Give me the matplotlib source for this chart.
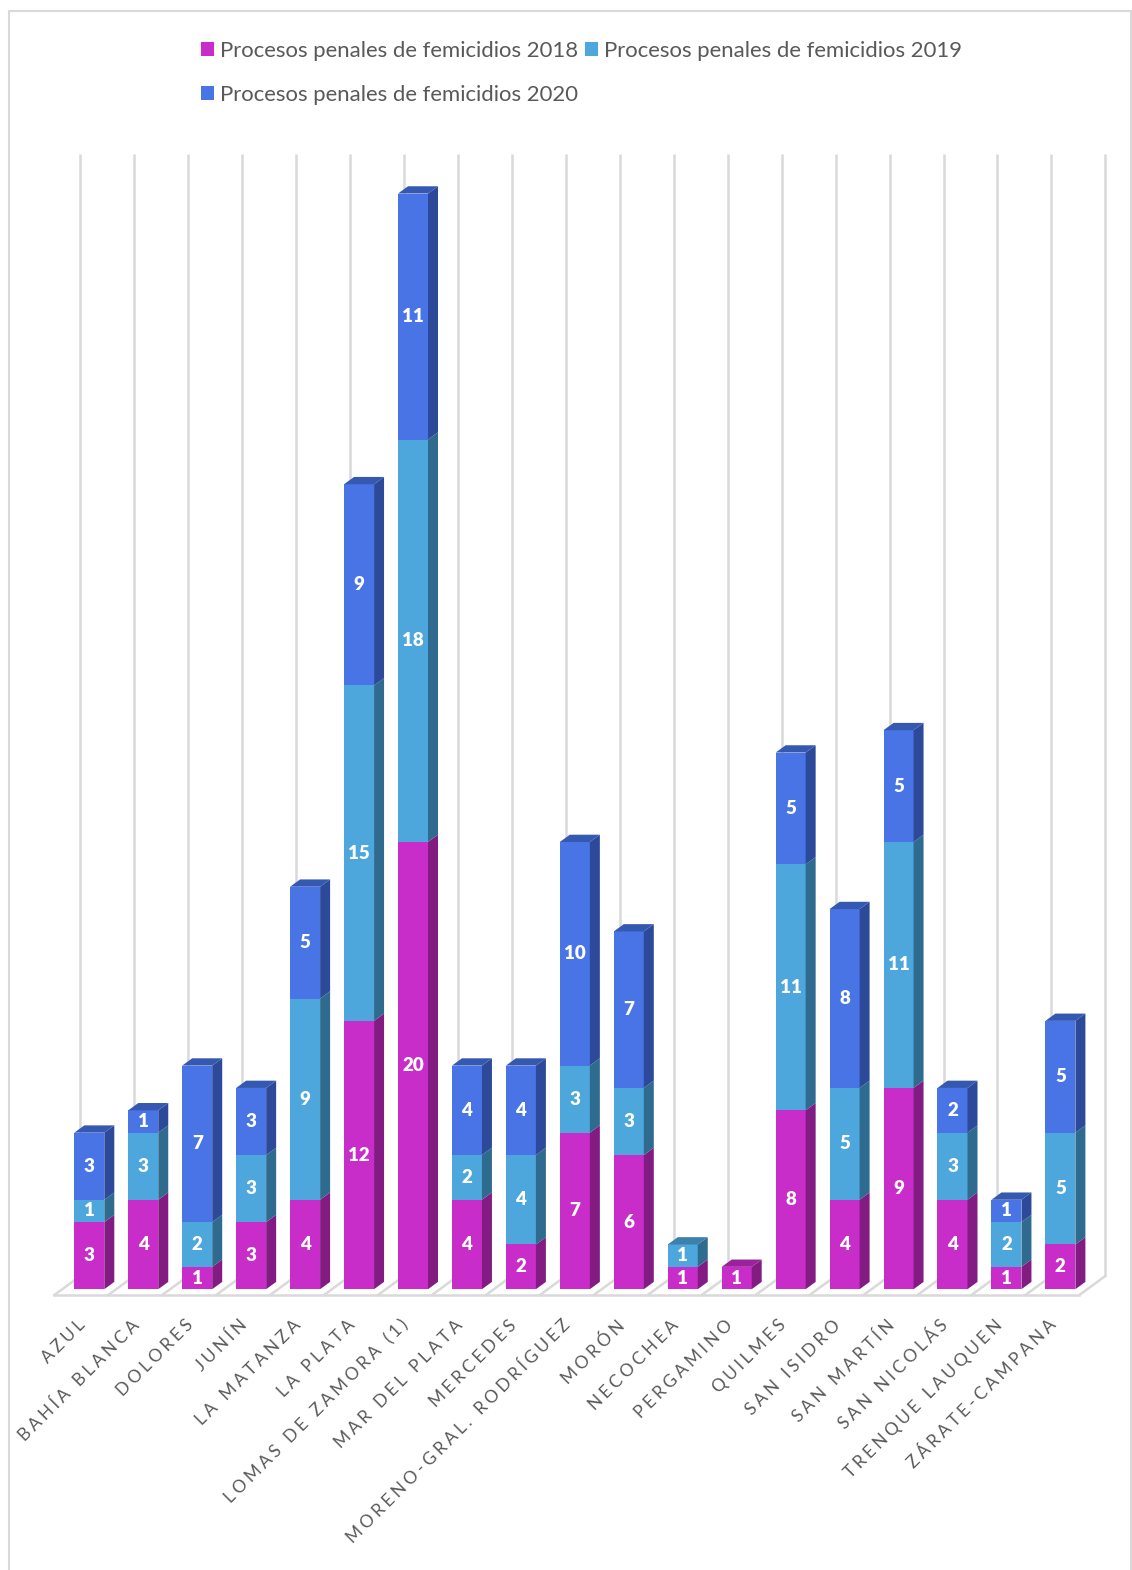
from matplotlib import pyplot as plt
from matplotlib.patches import Polygon, Rectangle
from matplotlib.transforms import ScaledTranslation
import numpy as np

plt.rcParams['font.family'] = ['Lato', 'DejaVu Sans']

########################################
# Data
########################################
cities = ['AZUL', 'BAHÍA BLANCA', 'DOLORES', 'JUNÍN', 'LA MATANZA', 'LA PLATA',
          'LOMAS DE ZAMORA (1)', 'MAR DEL PLATA', 'MERCEDES',
          'MORENO-GRAL. RODRÍGUEZ', 'MORÓN', 'NECOCHEA', 'PERGAMINO', 'QUILMES',
          'SAN ISIDRO', 'SAN MARTÍN', 'SAN NICOLÁS', 'TRENQUE LAUQUEN',
          'ZÁRATE-CAMPANA']
v2018 = [3, 4, 1, 3, 4, 12, 20, 4, 2, 7, 6, 1, 1, 8, 4, 9, 4, 1, 2]
v2019 = [1, 3, 2, 3, 9, 15, 18, 2, 4, 3, 3, 1, 0, 11, 5, 11, 3, 2, 5]
v2020 = [3, 1, 7, 3, 5, 9, 11, 4, 4, 10, 7, 0, 0, 5, 8, 5, 2, 1, 5]
series_labels = ['Procesos penales de femicidios 2018',
                 'Procesos penales de femicidios 2019',
                 'Procesos penales de femicidios 2020']

front_colors = ['#C92DC9', '#4DA6DC', '#4874E6']
side_colors = ['#821B82', '#2F6B8F', '#2C4A99']
top_colors = ['#9A229A', '#3C80AC', '#3558B0']

W, H = 1132, 1570
GRID = '#D9D9D9'

fig = plt.figure(figsize=(W / 100, H / 100), dpi=100)
# outer card, its bottom edge falls off the picture
fig.add_artist(Rectangle((9 / W, -0.01), (1131 - 9) / W, 1 + 0.01 - 11 / H,
                         transform=fig.transFigure, fc='white', ec=GRID, lw=1.5, zorder=-1))

step = 53.95
unit = 22.36
left = 89.3 - step / 2
base = 1289.2
top = 154
ax = fig.add_axes([left / W, 1 - base / H, 19 * step / W, (base - top) / H])
ax.set_xlim(-0.5, 18.5)
ax.set_ylim(0, (base - top) / unit)
ax.patch.set_alpha(0)
for s in ax.spines.values():
    s.set_visible(False)
ax.set_yticks([])

# depth of bars and floor, converted to data units
bar_dx, bar_dy = 10 / step, 7.3 / unit
back_dx, back_dy = 18 / step, 13.2 / unit
front_dx, front_dy = -8 / step, -5.8 / unit

# floor and back gridlines
edges = np.arange(len(cities) + 1) - 0.5
ymax = ax.get_ylim()[1]
for e in edges:
    ax.plot([e + back_dx, e + back_dx], [back_dy, ymax], color=GRID, lw=1.8, zorder=1, clip_on=False,
            solid_capstyle='butt')
    ax.plot([e + front_dx, e + back_dx], [front_dy, back_dy], color=GRID, lw=1.8, zorder=1, clip_on=False)
ax.plot([edges[0] + front_dx, edges[-1] + front_dx], [front_dy, front_dy], color=GRID, lw=1.8, zorder=1,
        clip_on=False)

# stacked bars with side and top faces
x = np.arange(len(cities))
width = 30 / step
bottom = np.zeros(len(cities))
handles = []
for j, vals in enumerate([v2018, v2019, v2020]):
    vals = np.array(vals)
    bars = ax.bar(x, vals, width, bottom=bottom, color=front_colors[j], zorder=3, label=series_labels[j])
    handles.append(bars)
    for i, v in enumerate(vals):
        if v == 0:
            continue
        r = x[i] + width / 2
        l = x[i] - width / 2
        y0 = bottom[i]
        y1 = y0 + v
        ax.add_patch(Polygon([(r, y0), (r + bar_dx, y0 + bar_dy), (r + bar_dx, y1 + bar_dy), (r, y1)],
                             fc=side_colors[j], ec='none', zorder=3))
        ax.text(x[i], y0 + v / 2, str(v), color='white', fontsize=13.5, fontweight='heavy',
                ha='center', va='center', zorder=5)
        if y1 == v2018[i] + v2019[i] + v2020[i]:
            ax.add_patch(Polygon([(l, y1), (l + bar_dx, y1 + bar_dy), (r + bar_dx, y1 + bar_dy), (r, y1)],
                                 fc=top_colors[j], ec='none', zorder=3))
    bottom = bottom + vals

# category labels, tracked out like the original
ax.set_xticks(x)
ax.set_xticklabels(['\u200a\u200a\u200a'.join(c) for c in cities], rotation=45, ha='right', va='top',
                   rotation_mode='anchor', fontsize=12.5, color='#595959')
ax.tick_params(axis='x', length=0, pad=20)
shift = ScaledTranslation(-12.5 / 100, 0, fig.dpi_scale_trans)
for lbl in ax.get_xticklabels():
    lbl.set_transform(lbl.get_transform() + shift)

# legend is filled column by column
order = [0, 2, 1]
fig.legend([handles[k] for k in order], [series_labels[k] for k in order], ncol=2, frameon=False,
           loc='upper left', bbox_to_anchor=(194 / W, 1 - 34 / H), fontsize=15.9, labelcolor='#595959',
           handlelength=0.62, handleheight=0.62, handletextpad=0.27, columnspacing=0.285, labelspacing=1.095,
           borderpad=0.3, borderaxespad=0)

fig.savefig('out.png', dpi=100)
